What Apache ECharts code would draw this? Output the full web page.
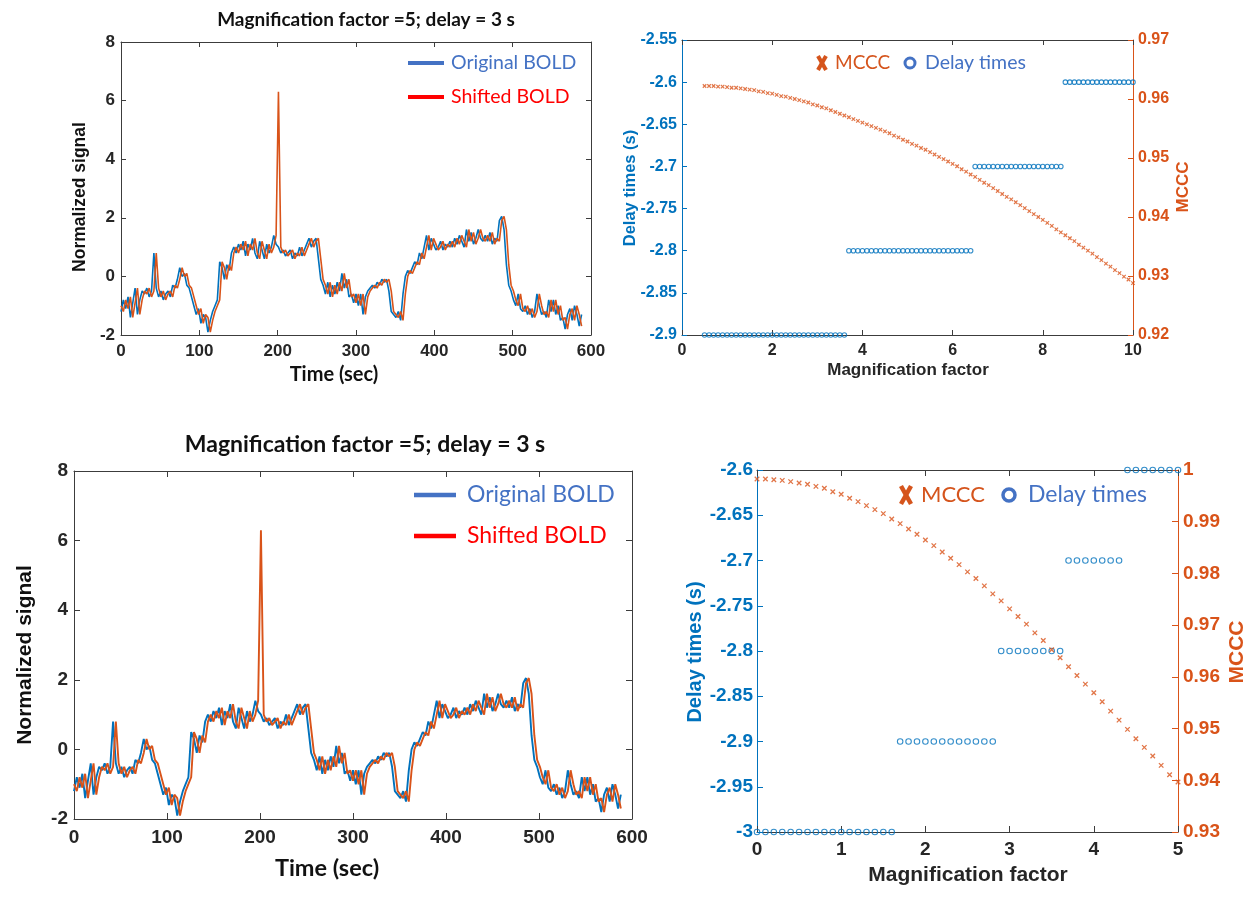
<!DOCTYPE html>
<html><head><meta charset="utf-8">
<script src="https://cdn.jsdelivr.net/npm/echarts@6/dist/echarts.min.js"></script>
<style>html,body{margin:0;padding:0;background:#fff}#c{width:1249px;height:897px}</style>
</head><body><div id="c"></div>
<script>
// ---------- DATA ----------
const timeSec = [0,3,6,9,12,15,18,21,24,27,30,33,36,39,42,45,48,51,54,57,60,63,66,69,72,75,78,81,84,87,90,93,96,99,102,105,108,111,114,117,120,123,126,129,132,135,138,141,144,147,150,153,156,159,162,165,168,171,174,177,180,183,186,189,192,195,198,201,204,207,210,213,216,219,222,225,228,231,234,237,240,243,246,249,252,255,258,261,264,267,270,273,276,279,282,285,288,291,294,297,300,303,306,309,312,315,318,321,324,327,330,333,336,339,342,345,348,351,354,357,360,363,366,369,372,375,378,381,384,387,390,393,396,399,402,405,408,411,414,417,420,423,426,429,432,435,438,441,444,447,450,453,456,459,462,465,468,471,474,477,480,483,486,489,492,495,498,501,504,507,510,513,516,519,522,525,528,531,534,537,540,543,546,549,552,555,558,561,564,567,570,573,576,579,582,585,588];
const originalBold = [
-1.2,-0.8,-1.1,-0.7,-1.4,-0.9,-0.4,-1.3,-0.8,-0.5,
-0.6,-0.4,-0.7,-0.5,0.8,-0.4,-0.7,-0.5,-0.8,-0.6,
-0.5,-0.7,-0.3,-0.4,-0.1,0.3,0.0,0.1,-0.3,-0.4,
-0.7,-1.0,-1.3,-1.1,-1.6,-1.3,-1.4,-1.9,-1.5,-1.2,
-1.0,-0.8,0.5,0.3,-0.1,0.4,0.2,0.8,1.0,0.8,
1.1,0.9,1.2,0.7,1.1,0.9,1.3,0.8,0.6,1.2,
0.9,0.6,1.1,0.8,1.0,1.4,1.1,1.0,0.8,0.9,
0.7,0.8,0.9,0.6,0.8,0.7,1.0,0.7,0.9,1.1,
1.3,1.0,1.2,1.3,0.6,-0.1,-0.3,-0.6,-0.2,-0.7,
-0.3,-0.6,-0.2,-0.5,0.1,-0.4,-0.1,-0.7,-0.6,-0.9,
-0.6,-1.0,-0.6,-1.3,-0.7,-0.5,-0.4,-0.3,-0.4,-0.2,
-0.3,-0.1,-0.2,-0.1,-0.5,-1.2,-1.3,-1.4,-1.2,-1.5,
-0.6,0.0,0.2,0.1,0.3,0.5,0.4,0.8,0.6,1.0,
1.4,0.9,1.3,1.1,0.9,1.0,1.2,0.9,1.1,1.0,
1.2,1.0,1.3,1.1,1.4,1.2,1.0,1.6,1.2,1.5,
1.1,1.3,1.6,1.3,1.2,1.4,1.2,1.5,1.1,1.3,
1.2,1.9,2.05,1.6,0.4,-0.3,-0.5,-0.8,-1.0,-0.6,
-1.1,-1.2,-1.0,-1.3,-1.1,-1.4,-1.2,-0.6,-1.0,-1.3,
-1.2,-1.4,-0.8,-1.2,-0.8,-1.3,-1.0,-1.5,-1.4,-1.8,
-1.3,-1.1,-1.5,-1.0,-1.3,-1.7,-1.3];
const shiftedBold = [
-1.0,-1.2,-0.8,-1.1,-0.7,-1.4,-0.9,-0.4,-1.3,-0.8,
-0.5,-0.6,-0.4,-0.7,-0.5,0.8,-0.4,-0.7,-0.5,-0.8,
-0.6,-0.5,-0.7,-0.3,-0.4,-0.1,0.3,0.0,0.1,-0.3,
-0.4,-0.7,-1.0,-1.3,-1.1,-1.6,-1.3,-1.4,-1.9,-1.5,
-1.2,-1.0,-0.8,0.5,0.3,-0.1,0.4,0.2,0.8,1.0,
0.8,1.1,0.9,1.2,0.7,1.1,0.9,1.3,0.8,0.6,
1.2,0.9,0.6,1.1,0.8,1.0,1.4,6.3,1.0,0.8,
0.9,0.7,0.8,0.9,0.6,0.8,0.7,1.0,0.7,0.9,
1.1,1.3,1.0,1.2,1.3,0.6,-0.1,-0.3,-0.6,-0.2,
-0.7,-0.3,-0.6,-0.2,-0.5,0.1,-0.4,-0.1,-0.7,-0.6,
-0.9,-0.6,-1.0,-0.6,-1.3,-0.7,-0.5,-0.4,-0.3,-0.4,
-0.2,-0.3,-0.1,-0.2,-0.1,-0.5,-1.2,-1.3,-1.4,-1.2,
-1.5,-0.6,0.0,0.2,0.1,0.3,0.5,0.4,0.8,0.6,
1.0,1.4,0.9,1.3,1.1,0.9,1.0,1.2,0.9,1.1,
1.0,1.2,1.0,1.3,1.1,1.4,1.2,1.0,1.6,1.2,
1.5,1.1,1.3,1.6,1.3,1.2,1.4,1.2,1.5,1.1,
1.3,1.2,1.9,2.05,1.6,0.4,-0.3,-0.5,-0.8,-1.0,
-0.6,-1.1,-1.2,-1.0,-1.3,-1.1,-1.4,-1.2,-0.6,-1.0,
-1.3,-1.2,-1.4,-0.8,-1.2,-0.8,-1.3,-1.0,-1.5,-1.4,
-1.8,-1.3,-1.1,-1.5,-1.0,-1.3,-1.7];

const magTop = [
0.5,0.6,0.7,0.8,0.9,1.0,1.1,1.2,1.3,1.4,
1.5,1.6,1.7,1.8,1.9,2.0,2.1,2.2,2.3,2.4,
2.5,2.6,2.7,2.8,2.9,3.0,3.1,3.2,3.3,3.4,
3.5,3.6,3.7,3.8,3.9,4.0,4.1,4.2,4.3,4.4,
4.5,4.6,4.7,4.8,4.9,5.0,5.1,5.2,5.3,5.4,
5.5,5.6,5.7,5.8,5.9,6.0,6.1,6.2,6.3,6.4,
6.5,6.6,6.7,6.8,6.9,7.0,7.1,7.2,7.3,7.4,
7.5,7.6,7.7,7.8,7.9,8.0,8.1,8.2,8.3,8.4,
8.5,8.6,8.7,8.8,8.9,9.0,9.1,9.2,9.3,9.4,
9.5,9.6,9.7,9.8,9.9,10.0];
const delayTop = [
-2.9,-2.9,-2.9,-2.9,-2.9,-2.9,-2.9,-2.9,-2.9,-2.9,
-2.9,-2.9,-2.9,-2.9,-2.9,-2.9,-2.9,-2.9,-2.9,-2.9,
-2.9,-2.9,-2.9,-2.9,-2.9,-2.9,-2.9,-2.9,-2.9,-2.9,
-2.9,-2.9,-2.8,-2.8,-2.8,-2.8,-2.8,-2.8,-2.8,-2.8,
-2.8,-2.8,-2.8,-2.8,-2.8,-2.8,-2.8,-2.8,-2.8,-2.8,
-2.8,-2.8,-2.8,-2.8,-2.8,-2.8,-2.8,-2.8,-2.8,-2.8,
-2.7,-2.7,-2.7,-2.7,-2.7,-2.7,-2.7,-2.7,-2.7,-2.7,
-2.7,-2.7,-2.7,-2.7,-2.7,-2.7,-2.7,-2.7,-2.7,-2.7,
-2.6,-2.6,-2.6,-2.6,-2.6,-2.6,-2.6,-2.6,-2.6,-2.6,
-2.6,-2.6,-2.6,-2.6,-2.6,-2.6];
const mcccTop = [
0.9622,0.9622,0.9622,0.9621,0.9621,0.9620,0.9619,0.9619,0.9618,0.9617,
0.9616,0.9615,0.9613,0.9612,0.9610,0.9609,0.9607,0.9605,0.9604,0.9602,
0.9600,0.9598,0.9596,0.9594,0.9591,0.9589,0.9586,0.9584,0.9581,0.9578,
0.9575,0.9572,0.9569,0.9566,0.9563,0.9560,0.9557,0.9554,0.9551,0.9548,
0.9545,0.9542,0.9538,0.9535,0.9531,0.9528,0.9524,0.9521,0.9517,0.9514,
0.9510,0.9506,0.9502,0.9498,0.9494,0.9490,0.9486,0.9481,0.9477,0.9472,
0.9468,0.9463,0.9458,0.9454,0.9449,0.9444,0.9439,0.9434,0.9430,0.9425,
0.9420,0.9415,0.9410,0.9405,0.9400,0.9395,0.9390,0.9385,0.9379,0.9374,
0.9369,0.9364,0.9359,0.9353,0.9348,0.9343,0.9338,0.9332,0.9327,0.9321,
0.9316,0.9310,0.9305,0.9299,0.9294,0.9288];

const magBottom = [
0.0,0.1,0.2,0.3,0.4,0.5,0.6,0.7,0.8,0.9,
1.0,1.1,1.2,1.3,1.4,1.5,1.6,1.7,1.8,1.9,
2.0,2.1,2.2,2.3,2.4,2.5,2.6,2.7,2.8,2.9,
3.0,3.1,3.2,3.3,3.4,3.5,3.6,3.7,3.8,3.9,
4.0,4.1,4.2,4.3,4.4,4.5,4.6,4.7,4.8,4.9,
5.0];
const delayBottom = [
-3,-3,-3,-3,-3,-3,-3,-3,-3,-3,
-3,-3,-3,-3,-3,-3,-3,-2.9,-2.9,-2.9,
-2.9,-2.9,-2.9,-2.9,-2.9,-2.9,-2.9,-2.9,-2.9,-2.8,
-2.8,-2.8,-2.8,-2.8,-2.8,-2.8,-2.8,-2.7,-2.7,-2.7,
-2.7,-2.7,-2.7,-2.7,-2.6,-2.6,-2.6,-2.6,-2.6,-2.6,
-2.6];
const mcccBottom = [
0.99826,0.99826,0.99813,0.99800,0.99775,0.99749,0.99723,0.99684,0.99646,0.99581,
0.99530,0.99453,0.99388,0.99311,0.99234,0.99156,0.99053,0.98963,0.98860,0.98757,
0.98648,0.98538,0.98416,0.98294,0.98171,0.98030,0.97901,0.97759,0.97605,0.97469,
0.97315,0.97167,0.97019,0.96851,0.96703,0.96523,0.96368,0.96194,0.96027,0.95860,
0.95692,0.95518,0.95338,0.95164,0.94984,0.94804,0.94636,0.94469,0.94288,0.94108,
0.93967];

const titleText = 'Magnification factor =5; delay = 3 s';
const legendBold = ['Original BOLD', 'Shifted BOLD'];
const legendMag = ['MCCC', 'Delay times'];

// ---------- STYLE ----------
const BLUE = '#0072BD', ORANGE = '#D95319', BOX = '#3c3c3c', LBL = '#262626';
const HELV = '"Liberation Sans", Arial, sans-serif';
const CAL = 'Lato, "Open Sans", sans-serif';

function axis(o) {
  return {
    type: 'value', gridIndex: o.grid, min: o.min, max: o.max, interval: o.interval,
    position: o.pos, scale: true,
    axisLine: { show: true, onZero: false, lineStyle: { color: o.lineColor || BOX, width: 1 } },
    axisTick: { show: true, inside: true, length: o.tick || 5, lineStyle: { color: o.lineColor || BOX, width: 1 } },
    axisLabel: { show: !!o.label, margin: o.margin || 6, color: o.labelColor || LBL,
      fontSize: o.fs || 16, fontWeight: 'bold', fontFamily: HELV },
    splitLine: { show: false }
  };
}
function txt(s, x, y, o) {
  return { type: 'text', x: x, y: y, rotation: o.rot || 0, z: 100,
    style: { text: s, fill: o.color || '#111', fontSize: o.size, fontWeight: o.weight || 'normal',
      fontFamily: o.family || HELV, align: o.align || 'center', verticalAlign: 'middle',
      textAlign: o.align || 'center', textVerticalAlign: 'middle' } };
}
function seg(x1, y1, x2, y2, color, w) {
  return { type: 'line', z: 100, shape: { x1, y1, x2, y2 }, style: { stroke: color, lineWidth: w } };
}
function ring(cx, cy, r, color, w) {
  return { type: 'circle', z: 100, shape: { cx, cy, r }, style: { fill: 'none', stroke: color, lineWidth: w } };
}

const grids = [
  { left: 121, top: 42, width: 470, height: 293 },
  { left: 682, top: 40, width: 451, height: 295 },
  { left: 74, top: 471, width: 558, height: 348 },
  { left: 757, top: 470, width: 421, height: 362 }
].map(g => Object.assign({ containLabel: false, outerBoundsMode: 'none', show: false }, g));

const xAxes = [
  axis({ grid: 0, min: 0, max: 600, interval: 100, pos: 'bottom', label: true, fs: 17, margin: 8 }),
  axis({ grid: 0, min: 0, max: 600, interval: 100, pos: 'top' }),
  axis({ grid: 1, min: 0, max: 10, interval: 2, pos: 'bottom', label: true, fs: 16, margin: 8 }),
  axis({ grid: 1, min: 0, max: 10, interval: 2, pos: 'top' }),
  axis({ grid: 2, min: 0, max: 600, interval: 100, pos: 'bottom', label: true, fs: 19, margin: 9, tick: 6 }),
  axis({ grid: 2, min: 0, max: 600, interval: 100, pos: 'top', tick: 6 }),
  axis({ grid: 3, min: 0, max: 5, interval: 1, pos: 'bottom', label: true, fs: 19, margin: 8, tick: 6 }),
  axis({ grid: 3, min: 0, max: 5, interval: 1, pos: 'top', tick: 6 })
];
const yAxes = [
  axis({ grid: 0, min: -2, max: 8, interval: 2, pos: 'left', label: true, fs: 17, margin: 6 }),
  axis({ grid: 0, min: -2, max: 8, interval: 2, pos: 'right' }),
  axis({ grid: 1, min: -2.9, max: -2.55, interval: 0.05, pos: 'left', label: true, fs: 16, margin: 5, lineColor: BLUE, labelColor: BLUE }),
  axis({ grid: 1, min: 0.92, max: 0.97, interval: 0.01, pos: 'right', label: true, fs: 16, margin: 5, lineColor: ORANGE, labelColor: ORANGE }),
  axis({ grid: 2, min: -2, max: 8, interval: 2, pos: 'left', label: true, fs: 19, margin: 6, tick: 6 }),
  axis({ grid: 2, min: -2, max: 8, interval: 2, pos: 'right', tick: 6 }),
  axis({ grid: 3, min: -3, max: -2.6, interval: 0.05, pos: 'left', label: true, fs: 19, margin: 4, tick: 6, lineColor: BLUE, labelColor: BLUE }),
  axis({ grid: 3, min: 0.93, max: 1, interval: 0.01, pos: 'right', label: true, fs: 19, margin: 5, tick: 6, lineColor: ORANGE, labelColor: ORANGE })
];

const origPts = timeSec.map((t, i) => [t, originalBold[i]]);
const shiftPts = timeSec.map((t, i) => [t, shiftedBold[i]]);
const CROSS = 'path://M0,0L10,10M10,0L0,10';

function lineSeries(xi, yi, data, color, w, z) {
  return { type: 'line', xAxisIndex: xi, yAxisIndex: yi, data, symbol: 'none', showSymbol: false,
    lineStyle: { color, width: w }, itemStyle: { color }, z, animation: false, silent: true };
}
function circleSeries(xi, yi, data, size) {
  return { type: 'scatter', xAxisIndex: xi, yAxisIndex: yi, data, symbol: 'circle', symbolSize: size, clip: false,
    itemStyle: { color: 'rgba(0,0,0,0)', borderColor: BLUE, borderWidth: 1.1 }, z: 3, animation: false, silent: true };
}
function crossSeries(xi, yi, data, size, bw) {
  return { type: 'scatter', xAxisIndex: xi, yAxisIndex: yi, data, symbol: CROSS, symbolSize: size, clip: false,
    itemStyle: { color: 'rgba(0,0,0,0)', borderColor: ORANGE, borderWidth: bw }, z: 4, animation: false, silent: true };
}

const series = [
  lineSeries(0, 0, origPts, BLUE, 1.6, 2),
  lineSeries(0, 0, shiftPts, ORANGE, 1.6, 3),
  circleSeries(2, 2, magTop.map((m, i) => [m, delayTop[i]]), 4.5),
  crossSeries(2, 3, magTop.map((m, i) => [m, mcccTop[i]]), 3.5, 1.2),
  lineSeries(4, 4, origPts, BLUE, 1.9, 2),
  lineSeries(4, 4, shiftPts, ORANGE, 1.9, 3),
  circleSeries(6, 6, magBottom.map((m, i) => [m, delayBottom[i]]), 5.5),
  crossSeries(6, 7, magBottom.map((m, i) => [m, mcccBottom[i]]), 4.5, 1.3)
];

const LBLUE = '#4472C4', LRED = '#FF0000', LORANGE = '#D5541C';
const graphic = [
  // top-left
  txt(titleText, 366, 20, { size: 19, weight: 'bold', family: CAL }),
  txt('Normalized signal', 80, 197, { size: 17.5, weight: 'bold', rot: Math.PI / 2 }),
  txt('Time (sec)', 334, 375, { size: 20, weight: 'bold', family: CAL }),
  seg(408, 63, 444, 63, LBLUE, 4), txt(legendBold[0], 451, 63, { size: 19.5, family: CAL, color: LBLUE, align: 'left' }),
  seg(408, 97, 444, 97, LRED, 4), txt(legendBold[1], 451, 97, { size: 19.5, family: CAL, color: LRED, align: 'left' }),
  // top-right
  txt('Delay times (s)', 630, 188, { size: 16.5, weight: 'bold', rot: Math.PI / 2, color: BLUE }),
  txt('MCCC', 1183, 187, { size: 17, weight: 'bold', rot: Math.PI / 2, color: ORANGE }),
  txt('Magnification factor', 908, 370, { size: 17, weight: 'bold', color: LBL }),
  seg(818, 56, 826, 70, LORANGE, 4), seg(826, 56, 818, 70, LORANGE, 4),
  txt(legendMag[0], 835, 63, { size: 19, family: CAL, color: LORANGE, align: 'left' }),
  ring(910, 63, 5, LBLUE, 3),
  txt(legendMag[1], 925, 63, { size: 19.5, family: CAL, color: LBLUE, align: 'left' }),
  // bottom-left
  txt(titleText, 365, 445, { size: 23, weight: 'bold', family: CAL }),
  txt('Normalized signal', 25, 655, { size: 21, weight: 'bold', rot: Math.PI / 2 }),
  txt('Time (sec)', 327, 868, { size: 23.5, weight: 'bold', family: CAL }),
  seg(414, 495, 456, 495, LBLUE, 4.5), txt(legendBold[0], 467, 495, { size: 23, family: CAL, color: LBLUE, align: 'left' }),
  seg(414, 536, 456, 536, LRED, 4.5), txt(legendBold[1], 467, 536, { size: 23, family: CAL, color: LRED, align: 'left' }),
  // bottom-right
  txt('Delay times (s)', 695, 652, { size: 20, weight: 'bold', rot: Math.PI / 2, color: BLUE }),
  txt('MCCC', 1237, 652, { size: 21, weight: 'bold', rot: Math.PI / 2, color: ORANGE }),
  txt('Magnification factor', 968, 875, { size: 21, weight: 'bold', color: LBL }),
  seg(901, 486, 911, 504, LORANGE, 4.5), seg(911, 486, 901, 504, LORANGE, 4.5),
  txt(legendMag[0], 921, 495, { size: 22, family: CAL, color: LORANGE, align: 'left' }),
  ring(1009, 495, 6, LBLUE, 3.5),
  txt(legendMag[1], 1028, 495, { size: 23, family: CAL, color: LBLUE, align: 'left' })
];

const chart = echarts.init(document.getElementById('c'), null, { renderer: 'canvas' });
chart.setOption({
  animation: false,
  backgroundColor: '#ffffff',
  grid: grids,
  xAxis: xAxes,
  yAxis: yAxes,
  series: series,
  graphic: graphic
});
</script>
</body></html>
